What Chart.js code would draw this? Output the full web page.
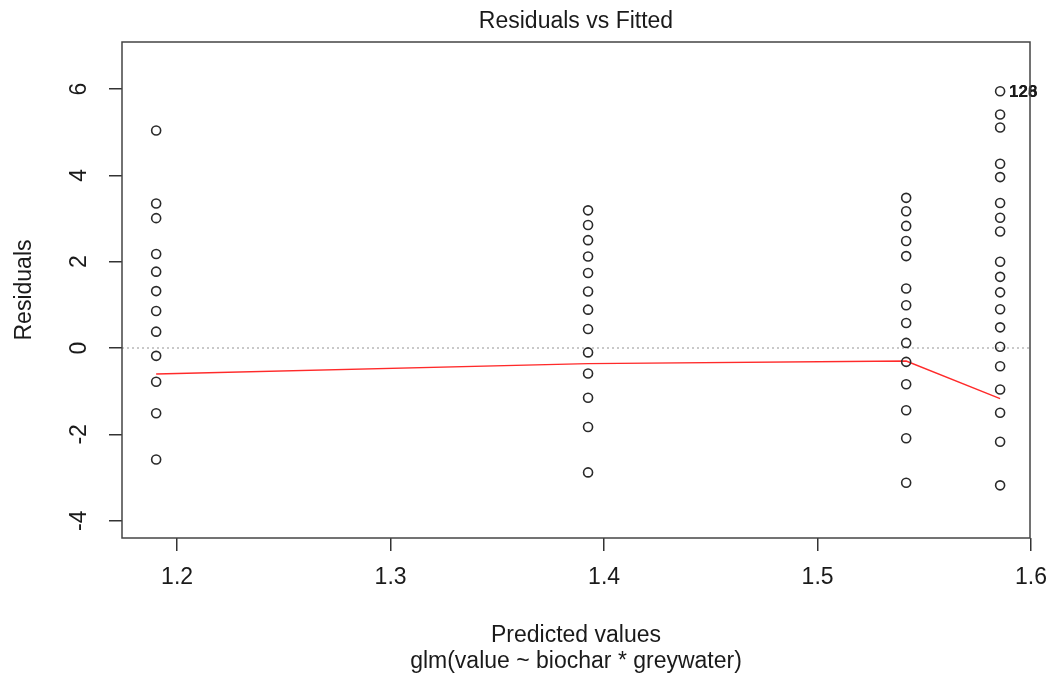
<!DOCTYPE html>
<html>
<head>
<meta charset="utf-8">
<title>Residuals vs Fitted</title>
<script src="https://cdn.jsdelivr.net/npm/chart.js@4.4.1/dist/chart.umd.min.js"></script>
<style>
  html, body { margin: 0; padding: 0; background: #fff; }
</style>
</head>
<body>
<canvas id="myChart" width="1057" height="684"></canvas>
<script>
// fitted value of each treatment group and the residuals read for it
const groupFitted = [1.1902, 1.3925, 1.5415, 1.5855];
const residA = [5.04, 3.35, 3.01, 2.18, 1.77, 1.32, 0.86, 0.38, -0.18, -0.78, -1.51, -2.58];
const residB = [3.19, 2.85, 2.5, 2.12, 1.74, 1.31, 0.89, 0.44, -0.1, -0.59, -1.15, -1.83, -2.88];
const residC = [3.48, 3.17, 2.83, 2.48, 2.13, 1.38, 0.99, 0.58, 0.12, -0.32, -0.84, -1.44, -2.09, -3.12];
const residD = [5.95, 5.41, 5.11, 4.27, 3.96, 3.36, 3.02, 2.7, 2.0, 1.65, 1.29, 0.9, 0.48, 0.03, -0.42, -0.96, -1.5, -2.17, -3.18];
// red smoother, one value per group
const smoothY = [-0.6, -0.36, -0.3, -1.17];
const xTicks = [1.2, 1.3, 1.4, 1.5, 1.6];
const yTicks = [-4, -2, 0, 2, 4, 6];
// ids printed next to the largest residual (they sit on top of each other)
const topLabels = ['126', '128'];

const FONT = 'Liberation Sans, Arial, sans-serif';
const INK = '#1a1a1a';

const groups = [residA, residB, residC, residD];
const points = [];
groups.forEach((g, i) => g.forEach(r => points.push({x: groupFitted[i], y: r})));

// zero line, ids, frame, title and rotated y labels
const extras = {
  id: 'extras',
  beforeDatasetsDraw(chart) {
    const {ctx, chartArea: a, scales: {y}} = chart;
    const y0 = y.getPixelForValue(0);
    ctx.save();
    ctx.strokeStyle = '#b8b8b8';
    ctx.lineWidth = 1.5;
    ctx.setLineDash([2, 3]);
    ctx.beginPath();
    ctx.moveTo(a.left, y0);
    ctx.lineTo(a.right, y0);
    ctx.stroke();
    ctx.restore();
  },
  afterDraw(chart) {
    const {ctx, chartArea: a, scales: {x, y}} = chart;
    ctx.save();
    // labels of the top point in the last group
    const px = x.getPixelForValue(groupFitted[3]);
    const py = y.getPixelForValue(Math.max(...residD));
    ctx.fillStyle = INK;
    ctx.font = 'bold 17px ' + FONT;
    ctx.textAlign = 'left';
    ctx.textBaseline = 'middle';
    topLabels.forEach(t => ctx.fillText(t, px + 9, py + 1));

    // box round the plot region
    ctx.strokeStyle = '#444';
    ctx.lineWidth = 1.5;
    ctx.strokeRect(a.left, a.top, a.right - a.left, a.bottom - a.top);

    // title centred over the plot region
    ctx.font = '23px ' + FONT;
    ctx.textAlign = 'center';
    ctx.fillText('Residuals vs Fitted', (a.left + a.right) / 2, 22);

    // y tick labels, turned like R does (las = 0)
    y.ticks.forEach(t => {
      ctx.save();
      ctx.translate(80, y.getPixelForValue(t.value));
      ctx.rotate(-Math.PI / 2);
      ctx.fillText(String(t.value), 0, 0);
      ctx.restore();
    });
    ctx.restore();
  }
};

new Chart(document.getElementById('myChart'), {
  type: 'scatter',
  data: {
    datasets: [
      {
        label: 'residuals',
        data: points,
        pointRadius: 4.5,
        pointBorderWidth: 1.6,
        pointBorderColor: '#2a2a2a',
        pointBackgroundColor: 'rgba(0,0,0,0)',
        showLine: false
      },
      {
        label: 'smoother',
        type: 'line',
        data: groupFitted.map((f, i) => ({x: f, y: smoothY[i]})),
        borderColor: '#ff2a2a',
        borderWidth: 1.4,
        pointRadius: 0,
        tension: 0,
        fill: false
      }
    ]
  },
  options: {
    responsive: false,
    animation: false,
    layout: {padding: {left: 0, right: 27, top: 42, bottom: 0}},
    plugins: {
      legend: {display: false},
      tooltip: {enabled: false},
      title: {display: false}
    },
    scales: {
      x: {
        type: 'linear',
        min: 1.1742,
        max: 1.5995,
        afterBuildTicks: axis => { axis.ticks = xTicks.map(v => ({value: v})); },
        afterFit: axis => {
          axis.height = 146;
          // the last tick label may hang past the plot, like in R
          axis.paddingLeft = 0;
          axis.paddingRight = 0;
        },
        border: {display: false},
        grid: {drawOnChartArea: false, drawTicks: true, tickLength: 13, color: '#333', lineWidth: 1.5},
        ticks: {
          autoSkip: false,
          maxRotation: 0,
          padding: 13,
          color: INK,
          font: {family: FONT, size: 23},
          callback: v => v.toFixed(1)
        },
        title: {
          display: true,
          text: ['Predicted values', 'glm(value ~ biochar * greywater)'],
          color: INK,
          font: {family: FONT, size: 23, lineHeight: 1.15},
          padding: {top: 0, bottom: 9}
        }
      },
      y: {
        type: 'linear',
        min: -4.4,
        max: 7.09,
        afterBuildTicks: axis => { axis.ticks = yTicks.map(v => ({value: v})); },
        afterFit: axis => { axis.width = 122; },
        border: {display: false},
        grid: {drawOnChartArea: false, drawTicks: true, tickLength: 13, color: '#333', lineWidth: 1.5},
        ticks: {display: false},
        title: {
          display: true,
          text: 'Residuals',
          color: INK,
          font: {family: FONT, size: 23, lineHeight: 1.15},
          padding: {top: 11, bottom: 0}
        }
      }
    }
  },
  plugins: [extras]
});
</script>
</body>
</html>
